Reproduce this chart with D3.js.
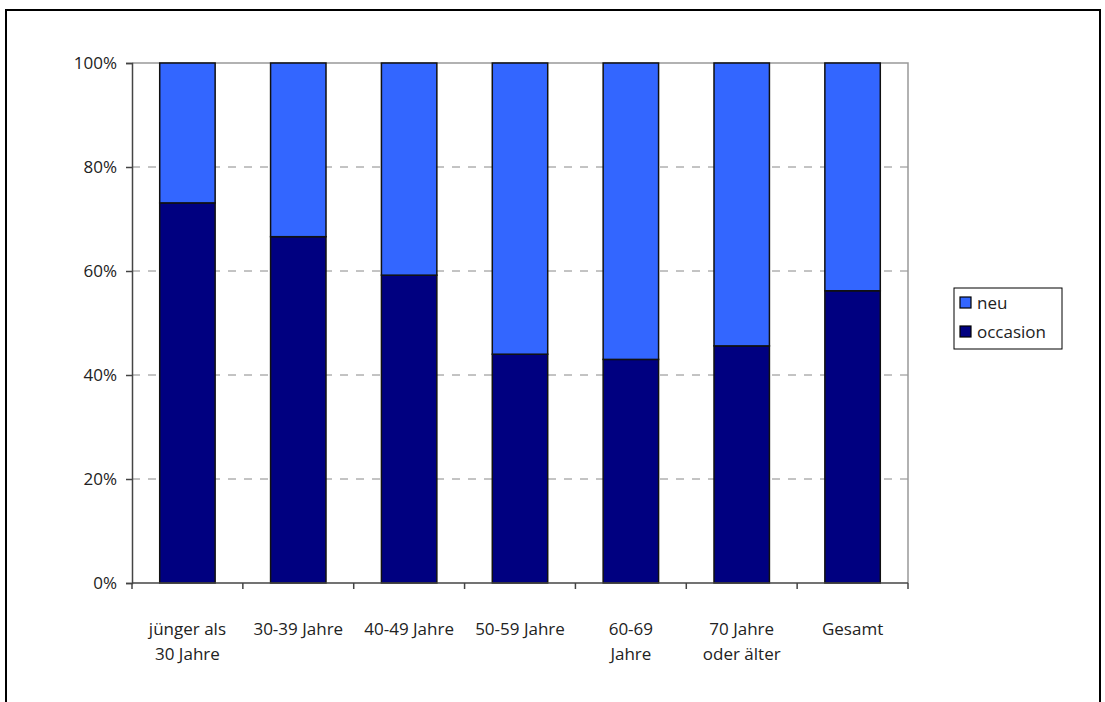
<!DOCTYPE html>
<html><head><meta charset="utf-8">
<script src="https://cdn.jsdelivr.net/npm/d3@7"></script>
<style>body{margin:0;background:#fff}svg{display:block}text{font-family:"Open Sans",sans-serif;fill:#222}</style>
</head><body>
<svg id="c" width="1105" height="702"></svg>
<script>
const categories = ["jünger als\n30 Jahre","30-39 Jahre","40-49 Jahre","50-59 Jahre","60-69\nJahre","70 Jahre\noder älter","Gesamt"];
const occasion = [73.1, 66.6, 59.2, 44.0, 43.0, 45.6, 56.2];
const neu = occasion.map(v => 100 - v);
const seriesNames = ["neu","occasion"];
const seriesColors = ["#3366FF","#000080"];
const yTicks = [0,20,40,60,80,100];

const svg = d3.select("#c");
svg.append("rect").attr("x",6).attr("y",10).attr("width",1094).attr("height",700)
  .attr("fill","none").attr("stroke","#000").attr("stroke-width",2);

const L=132,R=908,T=63,B=583;
const x = d3.scaleBand().domain(categories).range([L,R]).paddingInner(0.5).paddingOuter(0.25);
const xb = d3.scaleBand().domain(categories).range([L,R]);
const y = d3.scaleLinear().domain([0,100]).range([B,T]);

svg.append("g").selectAll("line").data(yTicks.filter(t=>t>0&&t<100)).join("line")
  .attr("x1",L).attr("x2",R).attr("y1",d=>y(d)).attr("y2",d=>y(d))
  .attr("stroke","#888").attr("stroke-width",1).attr("stroke-dasharray","8,8");
svg.append("path").attr("d",`M${L},${y(100)}H${R}V${B}`).attr("fill","none").attr("stroke","#999").attr("stroke-width",1.5);

const data = categories.map((c,i)=>({cat:c, occasion:occasion[i], neu:neu[i]}));
const stack = d3.stack().keys(["occasion","neu"])(data);
const color = {neu:seriesColors[0], occasion:seriesColors[1]};
stack.forEach(s=>{
  svg.append("g").selectAll("rect").data(s).join("rect")
    .attr("x",d=>x(d.data.cat)).attr("width",x.bandwidth())
    .attr("y",d=>y(d[1])).attr("height",d=>y(d[0])-y(d[1]))
    .attr("fill",color[s.key]).attr("stroke","#111").attr("stroke-width",1.5);
});

const ya = svg.append("g").attr("transform",`translate(${L},0)`)
  .call(d3.axisLeft(y).tickValues(yTicks).tickFormat(d=>d+"%").tickSize(6).tickPadding(9));
ya.select(".domain").attr("stroke","#444").attr("stroke-width",1.5);
ya.selectAll(".tick line").attr("stroke","#444").attr("stroke-width",1.5);
ya.selectAll("text").attr("font-size",17).style("font-family","'Open Sans',sans-serif").attr("fill","#222");

const xa = svg.append("g").attr("transform",`translate(0,${B})`);
xa.append("line").attr("x1",L).attr("x2",R).attr("stroke","#444").attr("stroke-width",1.5);
const bounds = categories.map(c=>xb(c)).concat([R]);
xa.selectAll("line.t").data(bounds).join("line").attr("class","t")
  .attr("x1",d=>d).attr("x2",d=>d).attr("y1",0).attr("y2",6).attr("stroke","#444").attr("stroke-width",1.5);
const lab = xa.selectAll("text.l").data(categories).join("text").attr("class","l")
  .attr("text-anchor","middle").attr("font-size",17)
  .attr("x",d=>xb(d)+xb.bandwidth()/2).attr("y",52);
lab.each(function(d){
  const lines=d.split("\n");
  d3.select(this).selectAll("tspan").data(lines).join("tspan")
    .attr("x",xb(d)+xb.bandwidth()/2).attr("dy",(l,i)=>i?25:0).text(l=>l);
});

const lg = svg.append("g");
lg.append("rect").attr("x",954).attr("y",288).attr("width",108).attr("height",61).attr("fill","#fff").attr("stroke","#000").attr("stroke-width",1);
seriesNames.forEach((n,i)=>{
  lg.append("rect").attr("x",960).attr("y",297+i*29).attr("width",11).attr("height",11)
    .attr("fill",seriesColors[i]).attr("stroke","#000").attr("stroke-width",1.2);
  lg.append("text").attr("x",977).attr("y",309+i*29).attr("font-size",17).text(n);
});
</script>
</body></html>
